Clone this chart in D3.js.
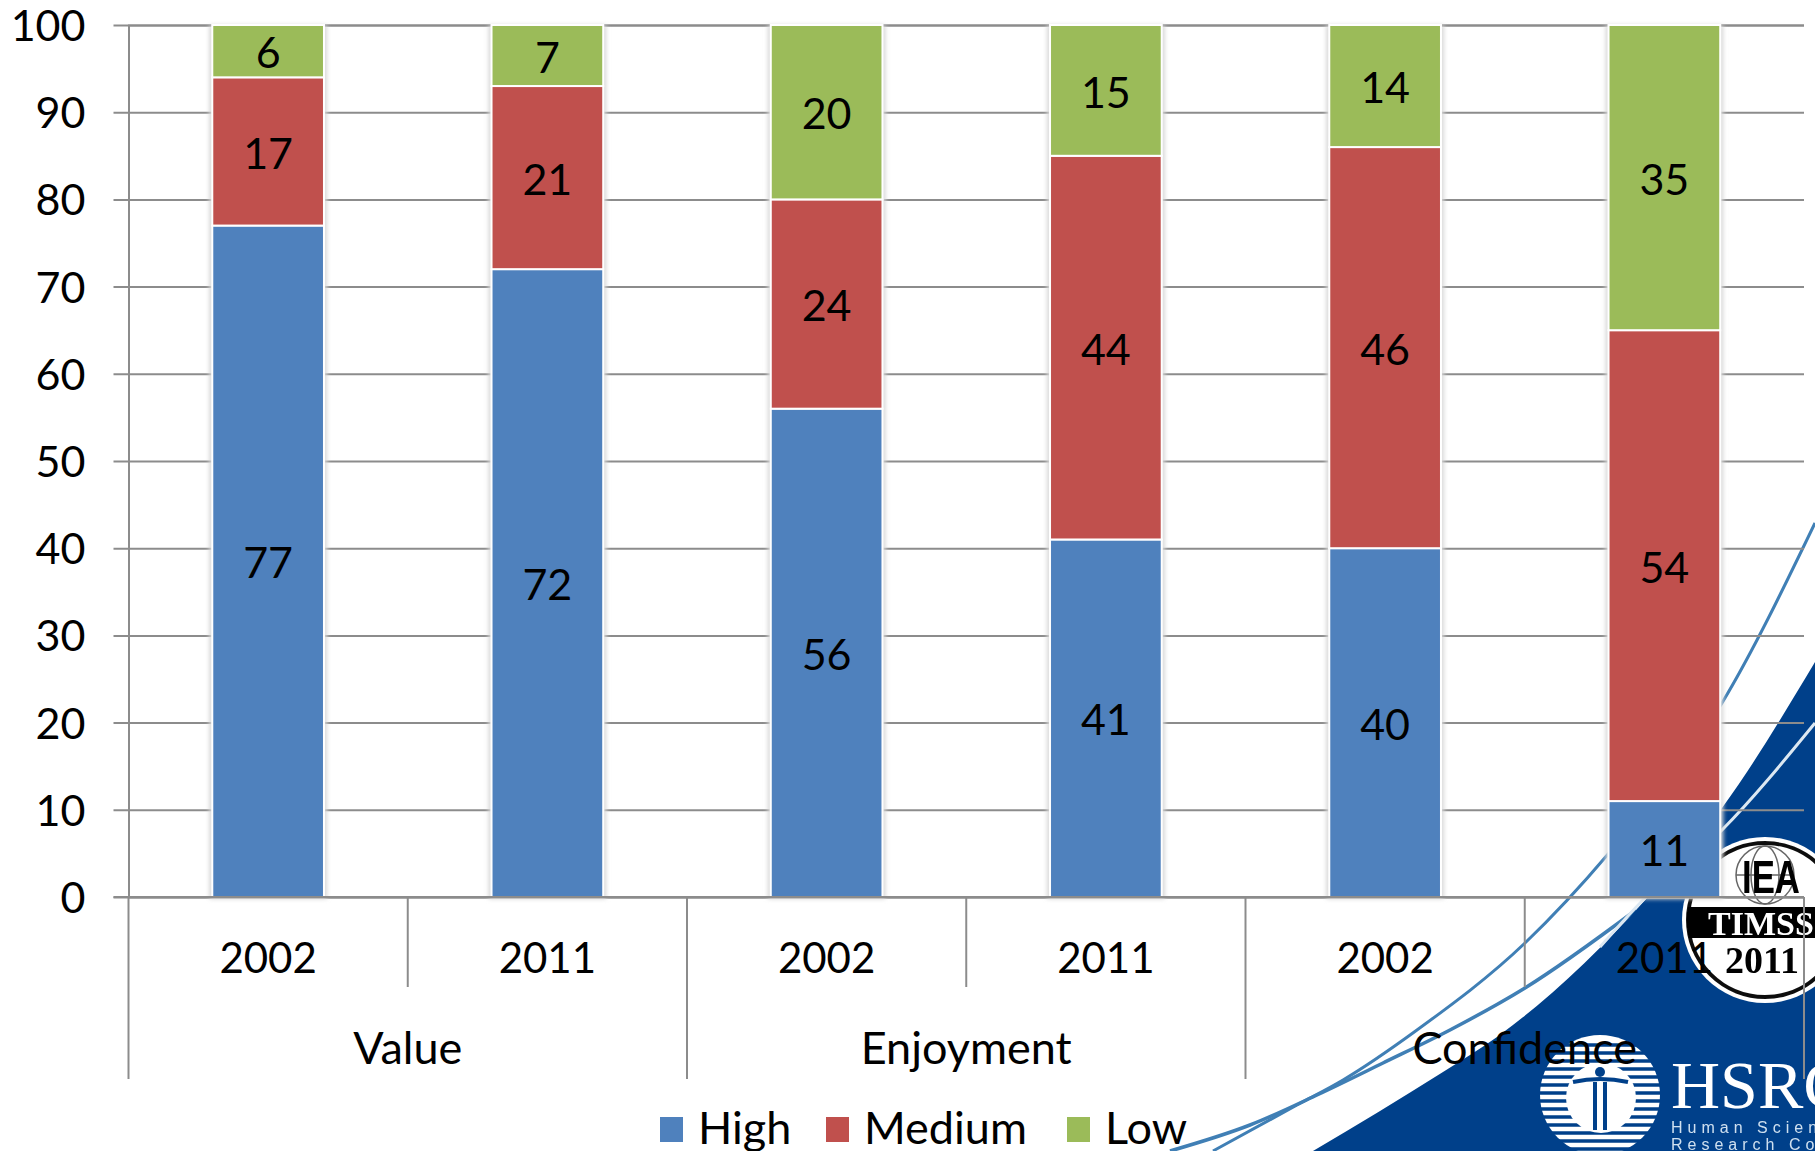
<!DOCTYPE html>
<html>
<head>
<meta charset="utf-8">
<script src="https://cdnjs.cloudflare.com/ajax/libs/d3/7.8.5/d3.min.js"></script>
<style>
html, body { margin: 0; padding: 0; background: #fff; overflow: hidden; }
text { font-family: Lato, "Open Sans", sans-serif; fill: #000; }
</style>
</head>
<body>
<div id="chart"></div>
<script>
// values
const groups = ["Value", "Enjoyment", "Confidence"];
const years = ["2002", "2011"];
const seriesNames = ["High", "Medium", "Low"];
const seriesColors = ["#4f81bd", "#c0504d", "#9bbb59"];
const high = [77, 72, 56, 41, 40, 11];
const medium = [17, 21, 24, 44, 46, 54];
const low = [6, 7, 20, 15, 14, 35];
const yTicks = [0, 10, 20, 30, 40, 50, 60, 70, 80, 90, 100];

const w = 1815, h = 1151;
const x_left = 128.5, x_right = 1804, y_top = 25, y_bottom = 897;
const gridColor = "#8c8c8c";
const digitSize = 43;
const yearSize = 42;
const wordSize = 45;

const svg = d3.select("#chart").append("svg")
    .attr("width", w)
    .attr("height", h);

const defs = svg.append("defs");
defs.append("filter").attr("id", "soft")
    .append("feGaussianBlur").attr("stdDeviation", 0.7);
defs.append("filter").attr("id", "halo")
    .attr("x", "-20%").attr("width", "140%")
    .append("feGaussianBlur").attr("stdDeviation", 2);
defs.append("clipPath").attr("id", "sealClip")
    .append("circle").attr("cx", 1765).attr("cy", 920).attr("r", 78);

draw_background();

// one band per bar, 2 bars per group
const rows = [];
groups.forEach(function(g, i) {
    years.forEach(function(y, j) {
        const k = i * years.length + j;
        rows.push({ key: k, group: g, year: y, High: high[k], Medium: medium[k], Low: low[k] });
    });
});

const xScale = d3.scaleBand()
    .domain(rows.map(d => d.key))
    .range([x_left, x_right])
    .paddingInner(0.6)
    .paddingOuter(0.3);
const bandScale = d3.scaleBand()
    .domain(rows.map(d => d.key))
    .range([x_left, x_right]);
const groupScale = d3.scaleBand()
    .domain(groups)
    .range([x_left, x_right]);
const yScale = d3.scaleLinear()
    .domain([0, 100])
    .range([y_bottom, y_top]);

// gridlines + y labels
const yAxis = d3.axisLeft(yScale)
    .tickValues(yTicks)
    .tickSize(x_left - x_right)
    .tickPadding(0)
    .tickFormat(d3.format("d"));
const yG = svg.append("g")
    .attr("transform", "translate(" + x_left + ",0)")
    .call(yAxis);
yG.select(".domain").attr("stroke", gridColor).attr("stroke-width", 2);
yG.selectAll(".tick line").attr("stroke", gridColor).attr("stroke-width", 2).attr("x1", -15);
yG.selectAll(".tick text")
    .attr("x", -43)
    .attr("dy", "0.36em")
    .style("font-size", digitSize + "px")
    .style("font-family", "Lato")
    .attr("fill", "#000");

// stacked bars
const stack = d3.stack().keys(seriesNames);
const layers = stack(rows);

// soft halo either side of the bars
svg.append("g")
    .selectAll("rect")
    .data(rows)
    .enter().append("rect")
    .attr("x", d => xScale(d.key) - 3)
    .attr("y", yScale(100))
    .attr("width", xScale.bandwidth() + 6)
    .attr("height", yScale(0) - yScale(100) + 2)
    .attr("fill", "#d8d8d8")
    .attr("filter", "url(#halo)");

const layerG = svg.selectAll("g.layer")
    .data(layers)
    .enter().append("g")
    .attr("class", "layer")
    .attr("fill", (d, i) => seriesColors[i]);

layerG.selectAll("rect")
    .data(d => d)
    .enter().append("rect")
    .attr("x", d => xScale(d.data.key))
    .attr("y", d => yScale(d[1]))
    .attr("width", xScale.bandwidth())
    .attr("height", d => yScale(d[0]) - yScale(d[1]))
    .attr("stroke", "#fff")
    .attr("stroke-width", 2);

layerG.selectAll("text")
    .data(d => d)
    .enter().append("text")
    .attr("x", d => xScale(d.data.key) + xScale.bandwidth() / 2)
    .attr("y", d => yScale((d[0] + d[1]) / 2))
    .attr("dy", "0.4em")
    .attr("text-anchor", "middle")
    .style("font-size", digitSize + "px")
    .text(d => d[1] - d[0]);

// x axis, two levels
svg.append("line")
    .attr("x1", x_left - 15).attr("x2", x_right)
    .attr("y1", y_bottom).attr("y2", y_bottom)
    .attr("stroke", gridColor).attr("stroke-width", 2);

const seps = svg.append("g").attr("stroke", gridColor).attr("stroke-width", 2);
rows.forEach(function(d, i) {
    if (i % years.length !== 0) {
        seps.append("line")
            .attr("x1", bandScale(d.key)).attr("x2", bandScale(d.key))
            .attr("y1", y_bottom).attr("y2", 987);
    }
});
groups.forEach(function(g) {
    seps.append("line")
        .attr("x1", groupScale(g)).attr("x2", groupScale(g))
        .attr("y1", y_bottom).attr("y2", 1079);
});
seps.append("line")
    .attr("x1", x_right).attr("x2", x_right)
    .attr("y1", y_bottom).attr("y2", 1079);

svg.append("g").selectAll("text")
    .data(rows)
    .enter().append("text")
    .attr("x", d => bandScale(d.key) + bandScale.bandwidth() / 2)
    .attr("y", 973)
    .attr("text-anchor", "middle")
    .style("font-size", yearSize + "px")
    .text(d => d.year);

svg.append("g").selectAll("text")
    .data(groups)
    .enter().append("text")
    .attr("x", d => groupScale(d) + groupScale.bandwidth() / 2)
    .attr("y", 1064)
    .attr("text-anchor", "middle")
    .style("font-size", wordSize + "px")
    .text(d => d);

// legend
const legendX = [660, 826, 1067];
const legend = svg.append("g").selectAll("g")
    .data(seriesNames)
    .enter().append("g")
    .attr("transform", (d, i) => "translate(" + legendX[i] + ",1117)");
legend.append("rect")
    .attr("width", 23).attr("height", 25)
    .attr("fill", (d, i) => seriesColors[i]);
legend.append("text")
    .attr("x", 38).attr("y", 27)
    .style("font-size", wordSize + "px")
    .text(d => d);

// the slide template behind the chart, not data
function draw_background() {
    const bg = svg.append("g").attr("filter", "url(#soft)");
    const blue = "#02418a";
    const lineBlue = "#3f7fb5";
    const curve = d3.line().curve(d3.curveMonotoneX);

    bg.append("path")
        .attr("d", curve([[1170, 1151], [1250, 1125], [1317, 1095], [1383, 1063], [1450, 1030], [1525, 988], [1636, 910]]))
        .attr("fill", "none").attr("stroke", lineBlue).attr("stroke-width", 3.5);
    bg.append("path")
        .attr("d", curve([[1213, 1151], [1297, 1105], [1343, 1080], [1417, 1030], [1525, 943], [1609, 853], [1722, 703], [1815, 523]]))
        .attr("fill", "none").attr("stroke", lineBlue).attr("stroke-width", 3);

    bg.append("path")
        .attr("d", curve([[1313, 1151], [1443, 1072], [1497, 1037], [1647, 898], [1722, 808], [1815, 662]]) + " L1815,1151 Z")
        .attr("fill", blue);
    bg.append("path")
        .attr("d", curve([[1600, 947], [1643, 900], [1722, 830], [1815, 723]]))
        .attr("fill", "none").attr("stroke", "#dce8f2").attr("stroke-width", 3);

    // TIMSS seal
    bg.append("circle").attr("cx", 1765).attr("cy", 920).attr("r", 83).attr("fill", "#fff");
    bg.append("circle").attr("cx", 1765).attr("cy", 920).attr("r", 77)
        .attr("fill", "#fff").attr("stroke", "#111").attr("stroke-width", 4);
    bg.append("rect").attr("x", 1680).attr("y", 907).attr("width", 135).attr("height", 31)
        .attr("fill", "#000").attr("clip-path", "url(#sealClip)");
    bg.append("text").attr("x", 1708).attr("y", 935)
        .style("font-family", "'Liberation Serif'").style("font-size", "34px").style("font-weight", "bold")
        .style("fill", "#fff").text("TIMSS");
    bg.append("text").attr("x", 1725).attr("y", 973)
        .style("font-family", "'Liberation Serif'").style("font-size", "38px").style("font-weight", "bold")
        .text("2011");
    const globe = bg.append("g").attr("fill", "none").attr("stroke", "#666").attr("stroke-width", 1.5);
    globe.append("circle").attr("cx", 1765).attr("cy", 875).attr("r", 29);
    globe.append("ellipse").attr("cx", 1765).attr("cy", 875).attr("rx", 14).attr("ry", 29);
    globe.append("line").attr("x1", 1736).attr("x2", 1794).attr("y1", 875).attr("y2", 875);
    bg.append("text").attr("x", 1742).attr("y", 893)
        .attr("textLength", 58).attr("lengthAdjust", "spacingAndGlyphs")
        .style("font-family", "'Liberation Sans'").style("font-size", "46px").style("font-weight", "bold")
        .text("IEA");

    // HSRC logo
    bg.append("circle").attr("cx", 1600).attr("cy", 1095).attr("r", 60).attr("fill", "#fff");
    const stripes = bg.append("g").attr("stroke", blue).attr("stroke-width", 3.5);
    d3.range(1045, 1151, 8).forEach(function(y) {
        stripes.append("line").attr("x1", 1540).attr("x2", 1660).attr("y1", y).attr("y2", y);
    });
    bg.append("circle").attr("cx", 1601).attr("cy", 1098).attr("r", 35).attr("fill", "#fff");
    bg.append("path")
        .attr("d", "M1573,1082 Q1600,1076 1628,1082 M1595,1082 V1130 M1605,1082 V1130")
        .attr("fill", "none").attr("stroke", blue).attr("stroke-width", 4);
    bg.append("circle").attr("cx", 1600).attr("cy", 1072).attr("r", 5).attr("fill", blue);
    bg.append("text").attr("x", 1671).attr("y", 1108)
        .style("font-family", "'Liberation Serif'").style("font-size", "68px")
        .style("fill", "#fff").text("HSRC");
    bg.append("text").attr("x", 1671).attr("y", 1133)
        .style("font-family", "'Liberation Sans'").style("font-size", "16px").style("letter-spacing", "5px")
        .style("fill", "#cfe0f0").text("Human Sciences");
    bg.append("text").attr("x", 1671).attr("y", 1150)
        .style("font-family", "'Liberation Sans'").style("font-size", "16px").style("letter-spacing", "5px")
        .style("fill", "#cfe0f0").text("Research Council");
}
</script>
</body>
</html>
